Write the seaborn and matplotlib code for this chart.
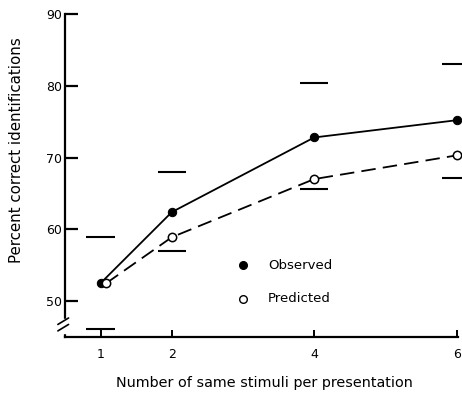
import matplotlib
matplotlib.use("Agg")
import matplotlib.pyplot as plt
import seaborn as sns
import pandas as pd

# Data
obs_x = [1, 2, 4, 6]
obs_y = [52.5, 62.4, 72.8, 75.2]
pred_x = [1.08, 2, 4, 6]
pred_y = [52.5, 58.9, 67.0, 70.3]
range_x = [1, 2, 4, 6]
range_hi = [59.0, 68.0, 80.4, 83.0]
range_lo = [46.1, 57.0, 65.6, 67.1]
xticks = [1, 2, 4, 6]
yticks = [50, 60, 70, 80, 90]

sns.set_style("ticks")
plt.rcParams['font.family'] = ['DejaVu Sans']
plt.rcParams['text.color'] = 'black'
plt.rcParams['axes.labelcolor'] = 'black'

fig = plt.figure(figsize=(4.62, 3.97), dpi=100)
ax = fig.add_axes([65/462, 1-337/397, (458-65)/462, (337-14)/397])

obs = pd.DataFrame({"x": obs_x, "y": obs_y})
pred = pd.DataFrame({"x": pred_x, "y": pred_y})

sns.lineplot(data=obs, x="x", y="y", ax=ax, color="black", lw=1.3,
             marker="o", markersize=6, markerfacecolor="black",
             markeredgecolor="black", clip_on=False, zorder=3)
sns.lineplot(data=pred, x="x", y="y", ax=ax, color="black", lw=1.3,
             marker="o", markersize=6, markerfacecolor="white",
             markeredgecolor="black", markeredgewidth=1.1,
             dashes=False, linestyle=(0, (8, 4)), clip_on=False, zorder=3)

for xv, hi, lo in zip(range_x, range_hi, range_lo):
    ax.hlines([hi, lo], xv - 0.2, xv + 0.2, color="black", lw=1.5, clip_on=False)

ax.set_xlim(0.5, 6.02)
ax.set_ylim(45, 90)
ax.set_xticks(xticks)
ax.set_xticklabels([str(t) for t in xticks])
ax.set_yticks(yticks)
ax.set_yticklabels([str(t) for t in yticks])

sns.despine(ax=ax)
for s in ("left", "bottom"):
    ax.spines[s].set_linewidth(1.6)
    ax.spines[s].set_color("black")
ax.tick_params(axis="y", direction="in", length=9, width=1.6, labelsize=9,
               pad=2, colors="black")
ax.tick_params(axis="x", direction="in", length=5, width=1.4, labelsize=9,
               pad=8, colors="black")

# axis break
ax.add_patch(plt.Rectangle((0.45, 45.5), 0.1, 1.95, transform=ax.transData,
                           color="white", clip_on=False, zorder=4))
for yb in (46.3, 47.2):
    ax.plot([0.40, 0.55], [yb - 0.45, yb + 0.45], color="black", lw=1.2,
            clip_on=False, zorder=5)

# legend
ax.plot([3.0], [55.0], "o", color="black", markersize=5.5, clip_on=False)
ax.text(3.35, 55.0, "Observed", va="center", ha="left", fontsize=9.5, color="black")
ax.plot([3.0], [50.3], "o", markerfacecolor="white", markeredgecolor="black",
        markersize=5.5, clip_on=False)
ax.text(3.35, 50.3, "Predicted", va="center", ha="left", fontsize=9.5, color="black")

ax.set_xlabel("Number of same stimuli per presentation", fontsize=10.4, color="black")
ax.xaxis.set_label_coords((264 - 65) / 393, -(383 - 337) / 323)
ax.set_ylabel("Percent correct identifications", fontsize=10.8, color="black")
ax.yaxis.set_label_coords((17 - 65) / 393, (337 - 150) / 323)
ax.xaxis.label.set_va("center")
ax.yaxis.label.set_va("center")

fig.savefig("out.png", dpi=100)
